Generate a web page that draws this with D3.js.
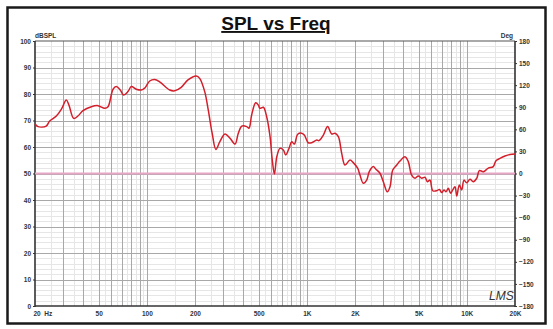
<!DOCTYPE html>
<html><head><meta charset="utf-8">
<script src="https://cdn.jsdelivr.net/npm/d3@7"></script>
<style>
html,body{margin:0;padding:0;background:#fff;}
svg{display:block;}
text{font-family:"Liberation Sans",Arial,sans-serif;}
</style></head>
<body><svg id="c" width="553" height="329"></svg>
<script>
// ---- data ----
const freq = [20,20.9,23.5,24.7,27.2,29.2,31.4,32.6,34.9,37.1,39.9,45,49.5,54.6,57.2,61.5,64.4,68.2,71.6,76.2,80,85.9,92.3,97,104.2,112,120.3,139,149.4,164,180.8,203.8,213.9,230,242,256,270,286,308,331,356,373,392,421,435,452,479,498,509,535,561,589,608,627,649,679,713,738,774,804,836,877,929,964,1021,1072,1154,1191,1268,1349,1429,1500,1574,1652,1732,1862,1950,2078,2148,2254,2366,2456,2602,2704,2864,3006,3184,3311,3443,3648,3820,4107,4305,4520,4743,4977,5224,5478,5662,5888,6122,6486,6736,6970,7198,7413,7660,7926,8160,8434,8650,8974,9290,9596,9978,10472,10966,11536,11968,12678,13616,14630,15210,16108,17320,18612,20000];
const spl = [68.7,67.7,67.9,69.8,71.7,74.2,77.7,75.8,70.8,71.7,73.7,75.2,75.6,74.6,75.2,81.8,82.8,81.5,79.6,80.9,82.8,81.8,81.5,82.2,84.9,85.5,84.6,81.5,81.2,82.5,85.3,86.8,85.9,80.9,74.0,65.2,59.1,62.0,64.9,63.3,61.1,65.2,67.9,67.7,67.1,72.1,76.7,75.8,74.6,75.0,71.4,63.9,55.1,49.8,56.3,59.5,58.9,57.0,59.5,62.0,61.1,64.8,65.2,64.5,61.6,61.6,62.6,62.4,64.5,67.7,64.9,65.2,63.9,57.6,53.2,55.1,54.1,52.0,49.4,46.3,47.5,50.7,52.6,51.6,50.1,46.9,43.1,45.0,51.3,53.2,54.7,56.3,54.5,49.4,48.2,49.1,48.2,48.6,46.9,47.5,43.5,43.5,44.0,42.8,43.8,43.1,44.4,42.5,43.8,45.0,41.5,45.7,43.8,47.5,46.5,47.8,46.9,48.2,51.1,50.7,52.0,52.6,54.8,55.7,56.6,57.2,57.4];
const phaseFreq = [20,20000];
const phase = [0,0];
const splTicks = [0,10,20,30,40,50,60,70,80,90,100];
const degTicks = [-180,-150,-120,-90,-60,-30,0,30,60,90,120,150,180];
const freqTicks = [20,50,100,200,500,1000,2000,5000,10000,20000];
const freqLabels = ["20  Hz","50","100","200","500","1K","2K","5K","10K","20K"];
const title = "SPL vs Freq";

// ---- layout ----
const L=35,R=515,T=41,B=306;
const svg=d3.select("#c");
const x=d3.scaleLog().domain([20,20000]).range([L,R]);
const y=d3.scaleLinear().domain([0,100]).range([B,T]);
const yp=d3.scaleLinear().domain([-180,180]).range([B,T]);

// outer frame
svg.append("rect").attr("x",7.5).attr("y",7.5).attr("width",538).attr("height",316)
  .attr("fill","#fff").attr("stroke","#1a1a1a").attr("stroke-width",2.5);

// title
svg.append("text").attr("x",276).attr("y",30).attr("text-anchor","middle")
  .attr("font-size",19).attr("font-weight","bold").attr("fill","#111")
  .attr("text-decoration","underline").text(title);

const g=svg.append("g");
// minor horizontal grid (every 2 dB)
const minorY=d3.range(2,100,2).filter(v=>v%10!==0);
g.selectAll(".hm").data(minorY).join("line")
  .attr("x1",L).attr("x2",R).attr("y1",d=>Math.round(y(d))+0.5).attr("y2",d=>Math.round(y(d))+0.5)
  .attr("stroke","#e6e6e6").attr("stroke-width",1);
// minor vertical grid (half steps)
const minorX=[];
[10,100,1000,10000].forEach(dec=>{[1.5,2.5,3.5,4.5,5.5,6.5,7.5,8.5,9.5].forEach(m=>{const f=m*dec; if(f>20&&f<20000) minorX.push(f);});});
g.selectAll(".vm").data(minorX).join("line")
  .attr("y1",T).attr("y2",B).attr("x1",d=>Math.round(x(d))+0.5).attr("x2",d=>Math.round(x(d))+0.5)
  .attr("stroke","#e6e6e6").attr("stroke-width",1);
// major horizontal
g.selectAll(".hM").data(splTicks.slice(1,-1)).join("line")
  .attr("x1",L).attr("x2",R).attr("y1",d=>Math.round(y(d))+0.5).attr("y2",d=>Math.round(y(d))+0.5)
  .attr("stroke","#a8a8a8").attr("stroke-width",1);
// major vertical
const majorX=[];
[10,100,1000,10000].forEach(dec=>{for(let m=1;m<=9;m++){const f=m*dec; if(f>20&&f<20000) majorX.push(f);}});
g.selectAll(".vM").data(majorX).join("line")
  .attr("y1",T).attr("y2",B).attr("x1",d=>Math.round(x(d))+0.5).attr("x2",d=>Math.round(x(d))+0.5)
  .attr("stroke","#a8a8a8").attr("stroke-width",1);

// plot border
svg.append("line").attr("x1",L).attr("x2",R).attr("y1",T).attr("y2",T).attr("stroke","#555").attr("stroke-width",1.2);
svg.append("line").attr("x1",L).attr("x2",L).attr("y1",T).attr("y2",B+1).attr("stroke","#333").attr("stroke-width",1.6);
svg.append("line").attr("x1",R).attr("x2",R).attr("y1",T).attr("y2",B+1).attr("stroke","#333").attr("stroke-width",1.6);
svg.append("line").attr("x1",L).attr("x2",R).attr("y1",B).attr("y2",B).attr("stroke","#333").attr("stroke-width",1.6);

// phase line
svg.append("path").datum(phaseFreq.map((f,i)=>[f,phase[i]]))
  .attr("d",d3.line().x(d=>x(d[0])).y(d=>yp(d[1])))
  .attr("fill","none").attr("stroke","#e8a6c6").attr("stroke-width",2);

// SPL curve
svg.append("path").datum(freq.map((f,i)=>[f,spl[i]]))
  .attr("d",d3.line().x(d=>x(d[0])).y(d=>y(d[1])).curve(d3.curveCatmullRom.alpha(0.5)))
  .attr("fill","none").attr("stroke","#d21f2b").attr("stroke-width",1.5).attr("stroke-linejoin","round");

// axes
const fs=6.5;
const ax=d3.axisLeft(y).tickValues(splTicks).tickSize(2).tickPadding(2);
const gl=svg.append("g").attr("transform",`translate(${L},0)`).call(ax);
gl.select(".domain").remove();
gl.selectAll("line").attr("stroke","#333");
gl.selectAll("text").attr("font-size",fs).attr("font-weight","bold").attr("fill","#333").attr("font-family","Liberation Sans, Arial, sans-serif");

const ar=d3.axisRight(yp).tickValues(degTicks).tickSize(2).tickPadding(2);
const gr=svg.append("g").attr("transform",`translate(${R},0)`).call(ar);
gr.select(".domain").remove();
gr.selectAll("line").attr("stroke","#333");
gr.selectAll("text").attr("font-size",fs).attr("font-weight","bold").attr("fill","#333").attr("font-family","Liberation Sans, Arial, sans-serif");

const ab=d3.axisBottom(x).tickValues(freqTicks).tickFormat((d,i)=>freqLabels[i]).tickSize(0).tickPadding(5);
const gb=svg.append("g").attr("transform",`translate(0,${B})`).call(ab);
gb.select(".domain").remove();
gb.selectAll("text").attr("font-size",fs).attr("font-weight","bold").attr("fill","#333").attr("font-family","Liberation Sans, Arial, sans-serif")
  .attr("xml:space","preserve").style("white-space","pre")
  .attr("text-anchor",(d,i)=>i===0?"start":"middle").attr("dx",(d,i)=>i===0?-2:0);

// axis unit labels
svg.append("text").attr("x",L).attr("y",T-3).attr("font-size",fs).attr("font-weight","bold").attr("fill","#333").text("dBSPL");
svg.append("text").attr("x",R-2).attr("y",T-3).attr("text-anchor","end").attr("font-size",fs).attr("font-weight","bold").attr("fill","#333").text("Deg");

// LMS mark
svg.append("text").attr("x",489).attr("y",300).attr("font-size",12).attr("font-style","italic")
  .attr("font-family","DejaVu Sans, sans-serif").attr("font-weight","200").attr("fill","#333").text("LMS");
</script></body></html>
